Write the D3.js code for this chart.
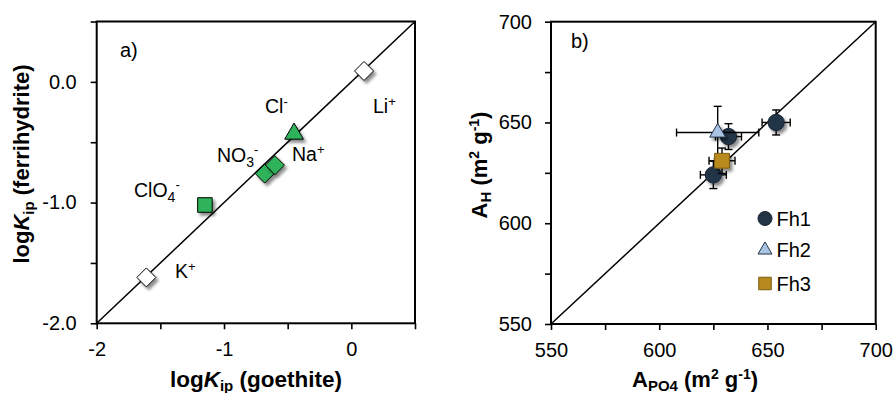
<!DOCTYPE html>
<html><head><meta charset="utf-8">
<script src="https://cdn.jsdelivr.net/npm/d3@7"></script>
<style>
body{margin:0;background:#fff;}
text{font-family:"Liberation Sans",Arial,sans-serif;fill:#000;}
</style></head><body>
<svg id="c" width="895" height="393"></svg>
<script>
// Panel a data
const ionNames = ["K+","Li+","ClO4-","NO3-","Na+","Cl-"];
const ionGoethite = [-1.61, 0.10, -1.15, -0.68, -0.60, -0.45];
const ionFerrihydrite = [-1.62, 0.09, -1.02, -0.76, -0.69, -0.43];
const ionShape = ["diamond","diamond","square","diamond","diamond","triangle"];
const ionFill = ["#ffffff","#ffffff","#2eb25a","#2eb25a","#2eb25a","#2eb25a"];
const aXTicks = [-2,-1.5,-1,-0.5,0,0.5];
const aXLabels = [-2,-1,0];
const aYTicks = [-2,-1.5,-1,-0.5,0,0.5];
const aYLabels = [-2,-1,0];

// Panel b data
const sampleNames = ["Fh1","Fh1","Fh1","Fh2","Fh3"];
const aPO4 = [654, 632, 625, 627, 629];
const aPO4Err = [6.5, 6, 6, 19, 6];
const aH = [650, 643, 624, 645, 631];
const aHErr = [6.2, 6.4, 6.8, 13, 6.3];
const seriesNames = ["Fh1","Fh2","Fh3"];
const seriesShape = ["circle","triangle","square"];
const seriesFill = ["#233447","#a9c3e2","#b8891c"];
const seriesStroke = ["#1a2636","#233447","#7d5d12"];
const bTicks = [550,575,600,625,650,675,700];
const bLabels = [550,600,650,700];

const svg = d3.select("#c");
const defs = svg.append("defs");
const f = defs.append("filter").attr("id","sh").attr("x","-50%").attr("y","-50%").attr("width","200%").attr("height","200%");
f.append("feDropShadow").attr("dx",2.5).attr("dy",3).attr("stdDeviation",1.8).attr("flood-color","#000").attr("flood-opacity",0.45);

function sym(shape, size){
  const t = {diamond:d3.symbolDiamond2, square:d3.symbolSquare2, triangle:d3.symbolTriangle2, circle:d3.symbolCircle}[shape];
  return d3.symbol().type(t).size(size)();
}
const TICKFONT = "20px";

// ---------- Panel a ----------
const ax = d3.scaleLinear().domain([-2,0.5]).range([96.7,415]);
const ay = d3.scaleLinear().domain([-2,0.5]).range([323.3,21.5]);
const ga = svg.append("g");

const xa = ga.append("g").attr("transform","translate(0,323.3)")
  .call(d3.axisBottom(ax).tickValues(aXTicks).tickSize(6).tickPadding(13)
    .tickFormat(d => aXLabels.includes(d) ? d3.format("d")(d).replace("−","-") : ""));
const ya = ga.append("g").attr("transform","translate(96.7,0)")
  .call(d3.axisLeft(ay).tickValues(aYTicks).tickSize(6).tickPadding(14)
    .tickFormat(d => aYLabels.includes(d) ? d3.format(".1f")(d).replace("−","-") : ""));
[xa,ya].forEach(g=>{
  g.select(".domain").remove();
  g.selectAll("line").attr("stroke","#000").attr("stroke-width",1.6);
  g.selectAll("text").style("font-size",TICKFONT).style("font-family","Liberation Sans, Arial, sans-serif");
});
ga.append("rect").attr("x",ax(-2)).attr("y",ay(0.5)).attr("width",ax(0.5)-ax(-2)).attr("height",ay(-2)-ay(0.5))
  .attr("fill","none").attr("stroke","#000").attr("stroke-width",2);
ga.append("line").attr("x1",ax(-2)).attr("y1",ay(-2)).attr("x2",ax(0.5)).attr("y2",ay(0.5)).attr("stroke","#000").attr("stroke-width",1.5);

const sizesA = {diamond:230, square:270, triangle:250};
ga.selectAll("path.pt").data(ionNames).join("path").attr("class","pt")
  .attr("d",(d,i)=>sym(ionShape[i], sizesA[ionShape[i]]))
  .attr("transform",(d,i)=>`translate(${ax(ionGoethite[i])},${ay(ionFerrihydrite[i])})`)
  .attr("fill",(d,i)=>ionFill[i]).attr("stroke","#000").attr("stroke-width",1)
  .attr("filter","url(#sh)");

const LF = 19.5;
function ionLabel(g,x,y,base,sub,sup){
  const t = g.append("text").attr("x",x).attr("y",y).style("font-size",LF+"px");
  t.append("tspan").text(base);
  if(sub){
    t.append("tspan").text(sub).attr("dy",5).style("font-size","14px");
    t.append("tspan").text(sup).attr("dy",-13).style("font-size","13px");
  } else {
    t.append("tspan").text(sup).attr("dy",-7).style("font-size","13px");
  }
}
ga.append("text").attr("x",120).attr("y",57).style("font-size","20px").text("a)");
ionLabel(ga,373,113,"Li",null,"+");
ionLabel(ga,265,113,"Cl",null,"-");
ionLabel(ga,292,161,"Na",null,"+");
ionLabel(ga,175,278,"K",null,"+");
ionLabel(ga,217,162,"NO","3","-");
ionLabel(ga,134,197,"ClO","4","-");

// axis titles a
{
  const t = ga.append("text").attr("text-anchor","middle").attr("x",256).attr("y",387)
    .style("font-size","22.5px").style("font-weight","bold");
  t.append("tspan").text("log");
  t.append("tspan").text("K").style("font-style","italic");
  t.append("tspan").text("ip").attr("dy",4).style("font-size","15px");
  t.append("tspan").text(" (goethite)").attr("dy",-4);
}
{
  const t = ga.append("text").attr("text-anchor","middle").attr("transform","translate(29,164) rotate(-90)")
    .style("font-size","22px").style("font-weight","bold");
  t.append("tspan").text("log");
  t.append("tspan").text("K").style("font-style","italic");
  t.append("tspan").text("ip").attr("dy",5).style("font-size","15px");
  t.append("tspan").text("  (ferrihydrite)").attr("dy",-5);
}

// ---------- Panel b ----------
const bx = d3.scaleLinear().domain([550,700]).range([551,875.7]);
const by = d3.scaleLinear().domain([550,700]).range([324,21.7]);
const gb = svg.append("g");
const xb = gb.append("g").attr("transform","translate(0,324)")
  .call(d3.axisBottom(bx).tickValues(bTicks).tickSize(6).tickPadding(13)
    .tickFormat(d => bLabels.includes(d) ? d : ""));
const yb = gb.append("g").attr("transform","translate(551,0)")
  .call(d3.axisLeft(by).tickValues(bTicks).tickSize(6).tickPadding(13)
    .tickFormat(d => bLabels.includes(d) ? d : ""));
[xb,yb].forEach(g=>{
  g.select(".domain").remove();
  g.selectAll("line").attr("stroke","#000").attr("stroke-width",1.6);
  g.selectAll("text").style("font-size",TICKFONT).style("font-family","Liberation Sans, Arial, sans-serif");
});
gb.append("rect").attr("x",bx(550)).attr("y",by(700)).attr("width",bx(700)-bx(550)).attr("height",by(550)-by(700))
  .attr("fill","none").attr("stroke","#000").attr("stroke-width",2);
gb.append("line").attr("x1",bx(550)).attr("y1",by(550)).attr("x2",bx(700)).attr("y2",by(700)).attr("stroke","#000").attr("stroke-width",1.5);

const idx = d => seriesNames.indexOf(d);
const cap = 4;
const markerSize = {circle:210, triangle:180, square:280};
aPO4.forEach((v,i)=>{
  const g = gb.append("g");
  const cx = bx(aPO4[i]), cy = by(aH[i]);
  const x1 = bx(aPO4[i]-aPO4Err[i]), x2 = bx(aPO4[i]+aPO4Err[i]);
  const y1 = by(aH[i]-aHErr[i]), y2 = by(aH[i]+aHErr[i]);
  const L = (a,b,c,d)=>g.append("line").attr("x1",a).attr("y1",b).attr("x2",c).attr("y2",d).attr("stroke","#000").attr("stroke-width",1.4);
  L(x1,cy,x2,cy); L(x1,cy-cap,x1,cy+cap); L(x2,cy-cap,x2,cy+cap);
  L(cx,y1,cx,y2); L(cx-cap,y1,cx+cap,y1); L(cx-cap,y2,cx+cap,y2);
  const s = idx(sampleNames[i]);
  gb.append("path").attr("d",sym(seriesShape[s],markerSize[seriesShape[s]]))
    .attr("transform",`translate(${cx},${cy})`)
    .attr("fill",seriesFill[s]).attr("stroke",seriesStroke[s]).attr("stroke-width",1)
    .attr("filter","url(#sh)");
});

// legend
const legY = [218.5,250,283.5];
const legSize = {circle:155, triangle:140, square:200};
seriesNames.forEach((n,s)=>{
  gb.append("path").attr("d",sym(seriesShape[s],legSize[seriesShape[s]])).attr("transform",`translate(765,${legY[s]})`)
    .attr("fill",seriesFill[s]).attr("stroke",seriesStroke[s]).attr("stroke-width",1);
  gb.append("text").attr("x",776.5).attr("y",legY[s]+7.2).style("font-size","20px").text(n);
});

// axis titles b
function areaTitle(g, transform, sub){
  const t = g.append("text").attr("text-anchor","middle").attr("transform",transform)
    .style("font-size","22px").style("font-weight","bold");
  t.append("tspan").text("A");
  t.append("tspan").text(sub).attr("dy",4).style("font-size","15px");
  t.append("tspan").text(" (m").attr("dy",-4);
  t.append("tspan").text("2").attr("dy",-8).style("font-size","14px");
  t.append("tspan").text(" g").attr("dy",8);
  t.append("tspan").text("-1").attr("dy",-8).style("font-size","14px");
  t.append("tspan").text(")").attr("dy",8);
}
areaTitle(gb,"translate(695,387)","PO4");
areaTitle(gb,"translate(487,165) rotate(-90)","H");
gb.append("text").attr("x",571).attr("y",48).style("font-size","20px").text("b)");
</script>
</body></html>
